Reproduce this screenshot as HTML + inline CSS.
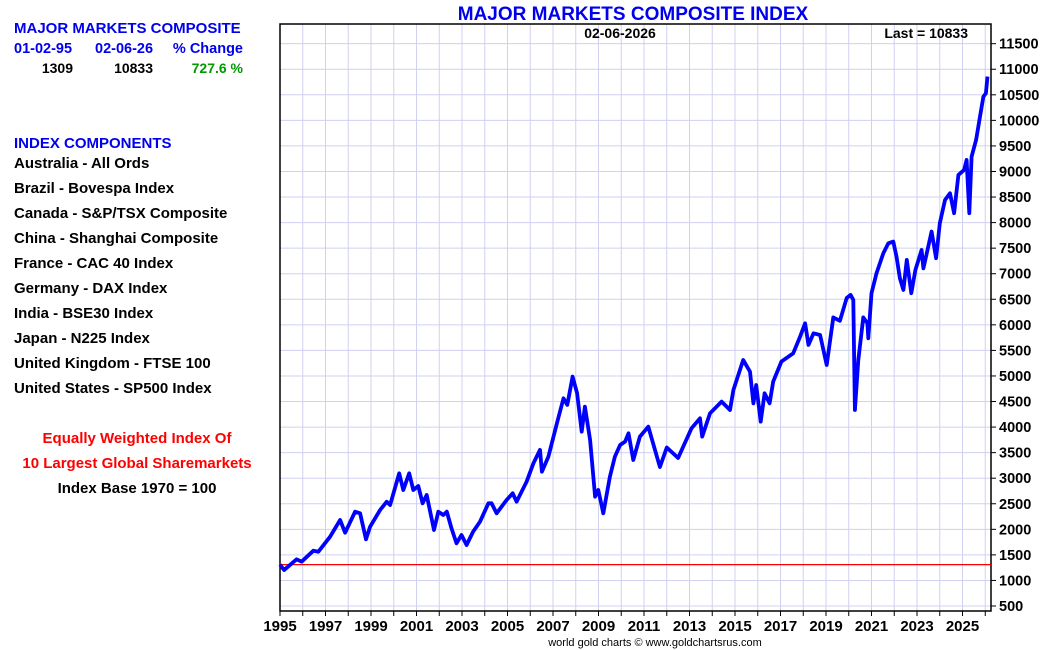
<!DOCTYPE html>
<html><head><meta charset="utf-8"><style>
html,body{margin:0;padding:0;background:#fff;}
svg{display:block;font-family:"Liberation Sans Narrow","Liberation Sans",sans-serif;font-weight:bold;}
</style></head><body>
<svg id="chart" width="1050" height="650" viewBox="0 0 1050 650" xmlns="http://www.w3.org/2000/svg">
<g id="grid"></g>
<g id="axes"></g>
<g id="series"></g>
<text x="633" y="20" text-anchor="middle" font-size="19" fill="#0000ee">MAJOR MARKETS COMPOSITE INDEX</text>
<text x="620" y="38" text-anchor="middle" font-size="14" fill="#000">02-06-2026</text>
<text x="968" y="38" text-anchor="end" font-size="14" fill="#000">Last = 10833</text>
<text x="655" y="646" text-anchor="middle" font-size="11" font-weight="normal" fill="#000">world gold charts © www.goldchartsrus.com</text>
<g font-family="Liberation Sans, sans-serif">
<text x="14" y="33" font-size="15" fill="#0000ee">MAJOR MARKETS COMPOSITE</text>
<text x="14" y="53" font-size="14.5" fill="#0000ee">01-02-95</text>
<text x="95" y="53" font-size="14.5" fill="#0000ee">02-06-26</text>
<text x="243" y="53" text-anchor="end" font-size="14.5" fill="#0000ee">% Change</text>
<text x="73" y="73" text-anchor="end" font-size="14" fill="#000">1309</text>
<text x="153" y="73" text-anchor="end" font-size="14" fill="#000">10833</text>
<text x="243" y="73" text-anchor="end" font-size="14" fill="#009900">727.6 %</text>
<text x="14" y="148" font-size="15" fill="#0000ee">INDEX COMPONENTS</text>
<g font-size="15" fill="#000">
<text x="14" y="168">Australia - All Ords</text>
<text x="14" y="193">Brazil - Bovespa Index</text>
<text x="14" y="218">Canada - S&amp;P/TSX Composite</text>
<text x="14" y="243">China - Shanghai Composite</text>
<text x="14" y="268">France - CAC 40 Index</text>
<text x="14" y="293">Germany - DAX Index</text>
<text x="14" y="318">India - BSE30 Index</text>
<text x="14" y="343">Japan - N225 Index</text>
<text x="14" y="368">United Kingdom - FTSE 100</text>
<text x="14" y="393">United States - SP500 Index</text>
</g>
<text x="137" y="443" text-anchor="middle" font-size="15" fill="#ff0000">Equally Weighted Index Of</text>
<text x="137" y="468" text-anchor="middle" font-size="15" fill="#ff0000">10 Largest Global Sharemarkets</text>
<text x="137" y="493" text-anchor="middle" font-size="15" fill="#000">Index Base 1970 = 100</text>
</g>
</svg>
<script>
const years = [1995.0,1995.18,1995.73,1995.95,1996.47,1996.69,1997.2,1997.64,1997.86,1998.3,1998.52,1998.78,1998.96,1999.4,1999.69,1999.84,2000.24,2000.42,2000.68,2000.86,2001.08,2001.27,2001.45,2001.77,2001.96,2002.18,2002.33,2002.54,2002.76,2002.98,2003.2,2003.49,2003.79,2004.16,2004.3,2004.52,2004.96,2005.23,2005.4,2005.84,2006.14,2006.43,2006.51,2006.8,2007.17,2007.46,2007.63,2007.86,2008.06,2008.26,2008.4,2008.63,2008.85,2008.99,2009.21,2009.5,2009.72,2009.95,2010.17,2010.32,2010.53,2010.82,2011.19,2011.7,2012.0,2012.5,2013.09,2013.46,2013.56,2013.9,2014.41,2014.78,2014.93,2015.36,2015.66,2015.81,2015.93,2016.13,2016.3,2016.52,2016.68,2017.04,2017.56,2017.86,2018.08,2018.23,2018.45,2018.74,2019.03,2019.32,2019.61,2019.91,2020.08,2020.2,2020.27,2020.42,2020.64,2020.82,2020.86,2021.0,2021.22,2021.52,2021.74,2021.96,2022.1,2022.25,2022.4,2022.55,2022.75,2022.93,2023.2,2023.28,2023.64,2023.84,2024.0,2024.23,2024.45,2024.63,2024.82,2025.07,2025.18,2025.3,2025.4,2025.6,2025.77,2025.92,2026.03,2026.1];
const values = [1309,1204,1414,1367,1582,1563,1856,2183,1934,2345,2313,1805,2052,2378,2541,2476,3096,2770,3096,2770,2848,2509,2672,1987,2345,2280,2345,2020,1727,1889,1693,1954,2149,2509,2509,2313,2574,2705,2541,2932,3292,3553,3128,3422,4074,4563,4433,4987,4661,3912,4400,3748,2639,2770,2313,3030,3422,3650,3715,3879,3357,3813,4008,3220,3600,3395,3976,4172,3813,4270,4498,4335,4726,5313,5084,4466,4824,4107,4661,4466,4889,5280,5444,5770,6031,5607,5835,5802,5215,6145,6080,6525,6585,6487,4335,5313,6145,6031,5737,6618,7009,7400,7596,7628,7335,6911,6683,7270,6618,7074,7465,7107,7824,7303,7987,8443,8574,8183,8933,9031,9226,8183,9291,9618,10074,10465,10531,10857];
const yTicks = [500,1000,1500,2000,2500,3000,3500,4000,4500,5000,5500,6000,6500,7000,7500,8000,8500,9000,9500,10000,10500,11000,11500];
const xTickLabels = ["1995","1997","1999","2001","2003","2005","2007","2009","2011","2013","2015","2017","2019","2021","2023","2025"];
const baseValue = [1309];

const L=280,R=991,T=24,B=611;
const xS = yr => L + (yr-1995)*22.75;
const yS = v => 606 - (v-500)*25.56/500;
const NS="http://www.w3.org/2000/svg";
function mk(tag, attrs, parent){const e=document.createElementNS(NS,tag);for(const k in attrs)e.setAttribute(k,attrs[k]);parent.appendChild(e);return e;}
const grid=document.getElementById('grid'), axes=document.getElementById('axes'), series=document.getElementById('series');

for(let y=1995;y<=2026;y++){
  const x=xS(y);
  const g=mk('line',{x1:x,x2:x,y1:T,y2:B,stroke:'#d0d0f0','stroke-width':1},grid);
  
  
  const t=mk('line',{x1:x,x2:x,y1:B,y2:B+5,stroke:'#000','stroke-width':1},axes);
  
  
}
yTicks.forEach(v=>{
  const y=yS(v);
  const g=mk('line',{x1:L,x2:R,y1:y,y2:y,stroke:'#d0d0f0','stroke-width':1},grid);
  
  
  const t=mk('line',{x1:R,x2:R+5,y1:y,y2:y,stroke:'#000','stroke-width':1},axes);
  
  
  const lb=mk('text',{x:R+8,y:y+5,'font-size':14.5,fill:'#000'},axes);
  lb.textContent=v;
  
  
});
xTickLabels.forEach(s=>{
  const lb=mk('text',{x:xS(+s),y:631,'font-size':15,fill:'#000','text-anchor':'middle'},axes);
  lb.textContent=s;
  
  
});
const frame=mk('rect',{x:L,y:T,width:R-L,height:B-T,fill:'none',stroke:'#000','stroke-width':1.5},axes);



const base=mk('line',{x1:L,x2:R,y1:yS(baseValue[0]),y2:yS(baseValue[0]),stroke:'#ff0000','stroke-width':1.2},series);



const pts=years.map((yr,i)=>xS(yr).toFixed(1)+','+yS(values[i]).toFixed(1)).join(' ');
const line=mk('polyline',{points:pts,fill:'none',stroke:'#0000ff','stroke-width':3.8,'stroke-linejoin':'round'},series);


</script>
</body></html>
